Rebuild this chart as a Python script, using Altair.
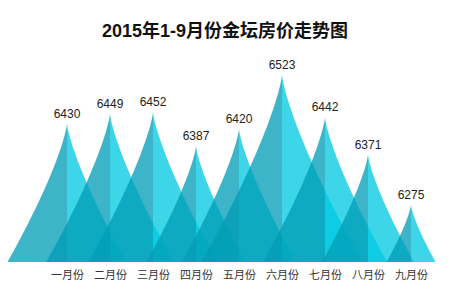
import json
import altair as alt
import pandas as pd

months = ["一月份", "二月份", "三月份", "四月份", "五月份", "六月份", "七月份", "八月份", "九月份"]
prices = [6430, 6449, 6452, 6387, 6420, 6523, 6442, 6371, 6275]

BASE = 6166.0
YMAX = 6570.6
XMIN, XMAX = -1.558, 8.907
SPREAD = 0.00524   # half-width of a peak (x units) per price unit above base
POWER = 1.3
N = 40

rows = []
for i, v in enumerate(prices):
    hv = v - BASE
    w = SPREAD * hv
    for half, sign in (("L", -1), ("R", 1)):
        for k in range(N + 1):
            h = k / N
            rows.append({
                "peak": i, "half": half, "grp": f"{i}{half}",
                "x": i + sign * w * (1 - h) ** POWER,
                "y": BASE + h * hv,
                "y0": BASE,
            })
shape = pd.DataFrame(rows)
labels = pd.DataFrame({"i": list(range(len(months))), "v": prices, "m": months})

xscale = alt.Scale(domain=[XMIN, XMAX], nice=False, zero=False)
yscale = alt.Scale(domain=[BASE, YMAX], nice=False, zero=False)

label_expr = json.dumps(months, ensure_ascii=False) + "[datum.value]"

areas = alt.Chart(shape).mark_area(opacity=0.76, interpolate="linear").encode(
    x=alt.X("x:Q", scale=xscale,
            axis=alt.Axis(values=list(range(len(months))), labelExpr=label_expr,
                          domain=False, ticks=False, grid=False, title=None,
                          labelFont="Noto Sans CJK SC", labelFontSize=11,
                          labelColor="#333333", labelPadding=7)),
    y=alt.Y("y:Q", scale=yscale, axis=None),
    y2="y0:Q",
    detail="grp:N",
    color=alt.Color("half:N", scale=alt.Scale(domain=["L", "R"], range=["#009db5", "#00c9e2"]), legend=None),
    order=alt.Order("peak:Q"),
)

text = alt.Chart(labels).mark_text(baseline="bottom", dy=-3, fontSize=12,
                                   font="Liberation Sans", color="#222222").encode(
    x=alt.X("i:Q", scale=xscale),
    y=alt.Y("v:Q", scale=yscale),
    text="v:Q",
)

chart = alt.layer(areas, text).properties(
    width=450, height=212,
    title=alt.TitleParams("2015年1-9月份金坛房价走势图", fontSize=18, fontWeight="bold",
                          font="Liberation Sans, Noto Sans CJK SC", color="#111111",
                          anchor="middle", offset=9),
    padding={"top": 50, "bottom": 38, "left": 0, "right": 0},
    autosize=alt.AutoSizeParams(type="none"),
    background="white",
).configure_view(stroke=None)

chart.save("out.html", embed_options={"renderer": "svg", "actions": False})
